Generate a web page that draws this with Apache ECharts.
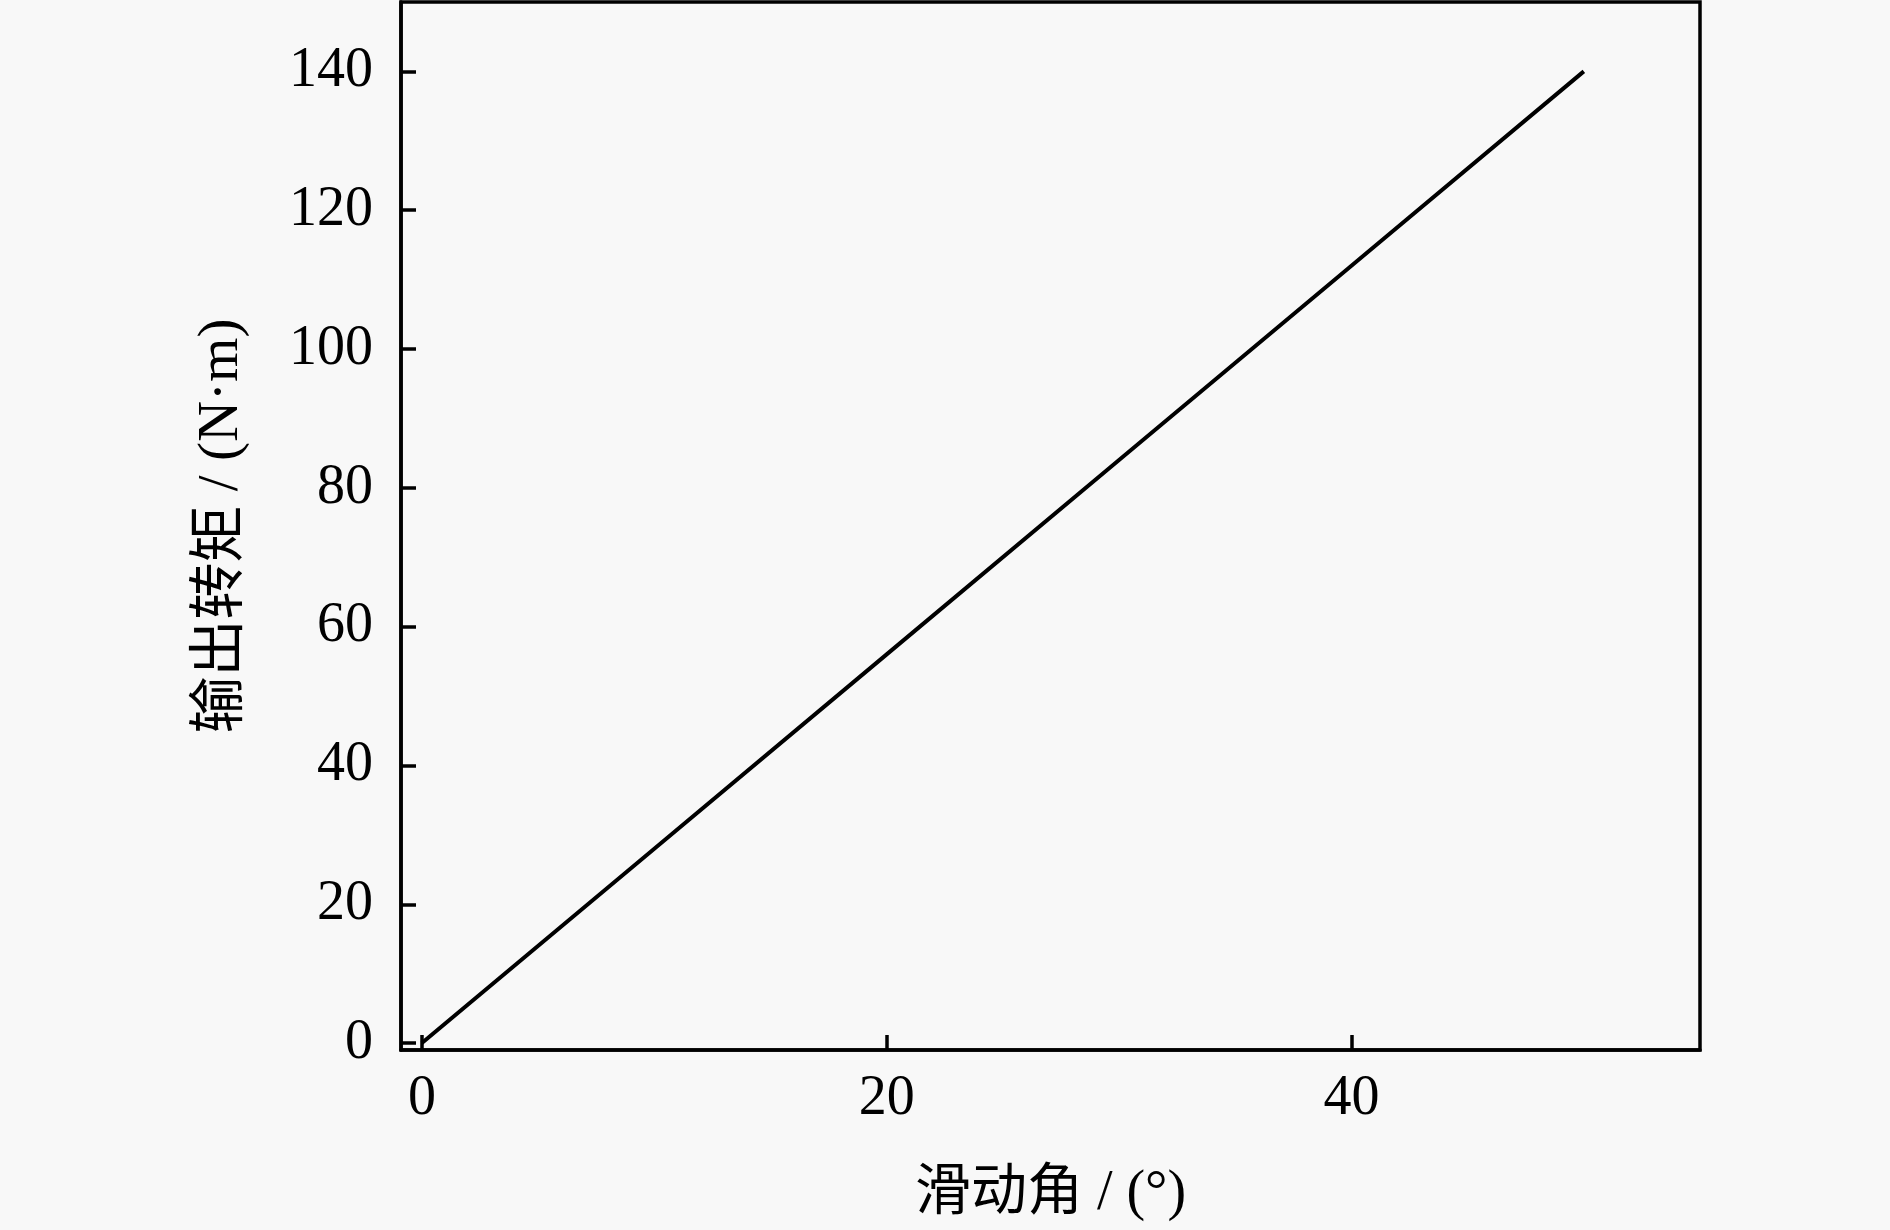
<!DOCTYPE html>
<html>
<head>
<meta charset="utf-8">
<script src="https://cdn.jsdelivr.net/npm/echarts@6/dist/echarts.min.js"></script>
<style>
html,body{margin:0;padding:0;background:#f8f8f8;}
#c{width:1890px;height:1230px;}
</style>
</head>
<body>
<div id="c"></div>
<script>
// Data
const slipAngle = [0, 10, 20, 30, 40, 50];
const outputTorque = [0, 28, 56, 84, 112, 140];
const xTicks = [0, 20, 40];
const yTicks = [0, 20, 40, 60, 80, 100, 120, 140];
const xName = '滑动角 / (°)';
const yName = '输出转矩 / (N·m)';

const FONT = "'Liberation Serif', 'Times New Roman', 'Noto Sans CJK SC', serif";
const chart = echarts.init(document.getElementById('c'), null, {renderer: 'canvas'});
chart.setOption({
  backgroundColor: '#f8f8f8',
  animation: false,
  grid: {
    left: 401, right: 190, top: 2, bottom: 180,
    show: true, borderColor: '#000', borderWidth: 3.5, backgroundColor: 'transparent'
  },
  xAxis: {
    type: 'value', min: -0.9, max: 55,
    name: xName, nameLocation: 'middle', nameGap: 116,
    nameTextStyle: {fontFamily: FONT, fontSize: 56, color: '#000'},
    axisLine: {show: true, onZero: false, lineStyle: {color: '#000', width: 3.5}},
    axisTick: {show: true, inside: true, length: 15, customValues: xTicks, lineStyle: {color: '#000', width: 3.5}},
    axisLabel: {show: true, customValues: xTicks, margin: 21, fontFamily: FONT, fontSize: 56, color: '#000'},
    splitLine: {show: false}
  },
  yAxis: {
    type: 'value', min: -1, max: 150,
    name: yName, nameLocation: 'middle', nameGap: 150, nameRotate: 90,
    nameTextStyle: {fontFamily: FONT, fontSize: 57, color: '#000'},
    axisLine: {show: true, onZero: false, lineStyle: {color: '#000', width: 3.5}},
    axisTick: {show: true, inside: true, length: 15, customValues: yTicks, lineStyle: {color: '#000', width: 3.5}},
    axisLabel: {show: true, customValues: yTicks, margin: 28, fontFamily: FONT, fontSize: 56, color: '#000'},
    splitLine: {show: false}
  },
  series: [{
    type: 'line',
    data: slipAngle.map((x, i) => [x, outputTorque[i]]),
    showSymbol: false,
    lineStyle: {color: '#000', width: 4},
    itemStyle: {color: '#000'}
  }]
});
</script>
</body>
</html>
